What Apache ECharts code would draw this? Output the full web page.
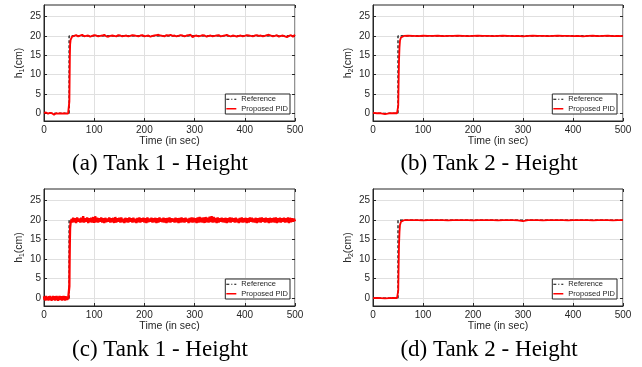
<!DOCTYPE html>
<html>
<head>
<meta charset="utf-8">
<script src="https://cdn.jsdelivr.net/npm/echarts@6/dist/echarts.min.js"></script>
<style>html,body{margin:0;padding:0;background:#fff}#c{width:642px;height:367px}</style>
</head>
<body>
<div id="c"></div>
<script>
// ---------- data ----------
const xTicks = [0, 100, 200, 300, 400, 500];
const yTicks = [0, 5, 10, 15, 20, 25];
const captions = ['(a) Tank 1 - Height', '(b) Tank 2 - Height', '(c) Tank 1 - Height', '(d) Tank 2 - Height'];
const yNames = ['1', '2', '1', '2'];

// reference set-point
const refT = [0, 50, 50, 500];
const refV = [0, 0, 20, 20];

// panel (a)
const aPreStep = 2;
const aPre = [0.1,0.0,0.2,0.1,-0.1,0.0,0.1,-0.2,0.0,-0.3,-0.4,-0.1,0.0,0.1,-0.1,-0.2,0.0,-0.3,-0.1,0.1,0.0,-0.2,-0.1,0.0,-0.1];
const aRise = [[50,-0.1],[50.5,3],[51,9],[51.5,15],[52,17.8],[53,19.0],[54,19.5],[56,19.8],[58,20.1]];
const aPostStart = 60, aPostStep = 4;
const aPost = [20.0,20.2,19.9,20.1,20.3,19.9,20.0,20.1,19.8,20.0,
20.2,20.1,19.9,20.0,20.1,20.3,19.9,19.8,20.0,20.1,
20.0,19.9,20.2,20.1,19.9,20.0,20.1,19.9,20.0,20.2,
20.1,20.0,19.9,20.1,20.2,19.9,20.0,20.1,19.8,20.0,
20.1,20.2,20.3,20.1,20.0,19.9,20.2,20.1,20.3,20.0,
20.1,19.9,20.0,20.2,20.1,19.9,20.1,20.2,20.3,19.7,
20.0,20.1,19.9,20.0,20.2,20.1,19.8,20.0,20.1,19.9,
20.0,20.1,20.2,19.9,20.0,20.1,20.3,20.0,19.9,20.1,
20.0,19.8,20.0,20.1,19.9,20.0,20.2,20.1,20.0,19.9,
20.1,20.2,20.0,20.1,19.9,20.0,20.2,20.3,20.1,19.9,
20.0,20.2,19.8,20.0,20.1,19.9,19.7,20.0,20.2,19.8,
20.3];

// panel (b)
const bPreStep = 4;
const bPre = [0.1,0.1,0.0,0.1,0.0,-0.1,-0.2,-0.1,0.0,-0.2,0.0,-0.1,0.0];
const bRise = [[50,0],[50.5,2],[51,6],[51.5,10],[52,13.5],[53,17],[54,18.8],[56,19.6],[58,19.9],[62,20.0]];
const bPostStart = 70, bPostStep = 10;
const bPost = [20.05,20.0,19.95,20.05,20.0,20.0,20.05,19.95,20.0,20.0,
20.05,20.0,19.95,20.0,20.05,20.0,20.0,19.95,20.0,20.05,
20.0,19.95,20.0,19.9,20.0,20.05,20.0,20.0,19.95,20.0,
20.05,20.0,20.0,19.95,20.0,19.9,20.0,20.05,19.95,20.0,
20.05,19.95,20.0,19.95];

// panel (c)
const cPreStep = 1;
const cPre = [0.5,-0.4,0.3,-0.6,0.6,-0.3,0.4,-0.5,0.2,-0.6,
0.5,-0.3,0.6,-0.4,0.3,-0.7,0.4,-0.5,0.6,-0.2,
-0.4,0.5,-0.6,0.3,-0.5,0.6,-0.3,0.4,-0.7,0.5,
-0.2,0.6,-0.5,0.3,-0.4,0.5,-0.6,0.2,-0.5,0.6,
-0.3,0.4,-0.6,0.5,-0.4,0.3,-0.5,0.4,-0.3];
const cRise = [[49,0.2],[50,-0.2],[50.5,3],[51,10],[51.5,15],[52,18],[53,19.3],[54,19.6],[55,20.3]];
const cPostStart = 56, cPostStep = 2;
const cPost = [19.4,20.6,19.5,20.5,19.3,20.7,19.6,20.4,19.4,20.6,
19.5,21.0,19.4,20.5,19.6,20.7,19.3,20.5,19.5,20.6,
19.4,20.8,19.3,21.0,19.5,20.6,19.4,20.5,19.6,20.7,
19.4,20.5,19.3,20.6,19.5,20.4,19.6,20.7,19.4,20.5,
19.5,20.6,19.3,20.8,19.4,20.5,19.6,20.6,19.4,20.7,
19.5,20.4,19.3,20.6,19.5,20.5,19.4,20.7,19.6,20.5,
19.4,20.6,19.5,20.4,19.3,20.6,19.5,20.7,19.4,20.5,
19.6,20.6,19.4,20.5,19.3,20.7,19.5,20.4,19.6,20.6,
19.4,20.5,19.5,20.6,19.3,20.5,19.4,20.7,19.6,20.4,
19.5,20.6,19.4,20.5,19.3,20.6,19.5,20.7,19.4,20.5,
19.6,20.4,19.4,20.6,19.5,20.5,19.3,20.6,19.4,20.7,
19.5,20.5,19.4,20.6,19.6,20.4,19.3,20.6,19.5,20.7,
19.4,20.6,19.5,20.5,19.3,20.7,19.4,20.8,19.5,20.6,
19.4,20.7,19.3,20.8,19.5,20.6,19.4,20.9,19.5,21.0,
19.4,20.8,19.5,20.6,19.3,20.7,19.4,20.5,19.6,20.6,
19.5,20.5,19.4,20.6,19.3,20.5,19.5,20.7,19.4,20.6,
19.6,20.5,19.4,20.6,19.5,20.4,19.3,20.6,19.5,20.7,
19.4,20.5,19.5,20.6,19.3,20.5,19.4,20.7,19.6,20.6,
19.5,20.4,19.4,20.6,19.3,20.5,19.5,20.6,19.4,20.7,
19.6,20.5,19.4,20.6,19.5,20.5,19.3,20.6,19.4,20.5,
19.5,20.6,19.4,20.7,19.3,20.5,19.5,20.6,19.4,20.5,
19.6,20.6,19.4,20.5,19.5,20.7,19.3,20.6,19.5,20.5,
19.6,20.4,19.7];

// panel (d)
const dPreStep = 8;
const dPre = [0.0,0.05,0.0,-0.05,0.0,0.05,0.0];
const dRise = [[50,0],[50.5,2],[51,6],[51.5,10],[52,13.5],[53,17],[54,18.8],[56,19.6],[58,19.9],[62,20.0]];
const dPostStart = 70, dPostStep = 10;
const dPost = [20.0,20.02,20.0,19.98,20.0,20.02,20.0,20.0,19.98,20.0,
20.02,20.0,20.0,19.98,20.0,20.02,20.0,20.0,19.98,20.0,
20.02,20.0,19.98,19.75,20.0,20.02,20.0,19.98,20.0,20.0,
20.02,20.0,19.98,20.0,20.0,20.02,20.0,19.98,20.0,20.02,
20.0,19.98,20.0,20.0];

// ---------- build ----------
function build(pre, preStep, rise, post, postStart, postStep) {
  const out = [];
  pre.forEach((v, i) => out.push([i * preStep, v]));
  rise.forEach(p => out.push(p));
  post.forEach((v, i) => out.push([postStart + i * postStep, v]));
  return out;
}
const pidData = [
  build(aPre, aPreStep, aRise, aPost, aPostStart, aPostStep),
  build(bPre, bPreStep, bRise, bPost, bPostStart, bPostStep),
  build(cPre, cPreStep, cRise, cPost, cPostStart, cPostStep),
  build(dPre, dPreStep, dRise, dPost, dPostStart, dPostStep)
];
const refData = refT.map((t, i) => [t, refV[i]]);
const pidWidths = [1.9, 1.8, 2.3, 1.8];

const AX = '#262626';
const grids = [
  {left: 44, top: 5, width: 251, height: 116},
  {left: 373, top: 5, width: 250, height: 116},
  {left: 44, top: 189, width: 251, height: 117},
  {left: 373, top: 189, width: 250, height: 117}
];
const legendPos = [
  {right: 352, bottom: 253},
  {right: 25, bottom: 253},
  {right: 352, bottom: 68},
  {right: 25, bottom: 68}
];
const capPos = [[160, 164], [489, 164], [160, 350], [489, 350]];
const dashIcon = 'path://M0,0h3v1h-3zM5,0h1v1h-1zM8,0h2v1h-2z';

const option = {
  animation: false,
  backgroundColor: '#fff',
  grid: grids.map(g => Object.assign({show: true, borderColor: AX, borderWidth: 1, backgroundColor: 'transparent', containLabel: false}, g)),
  xAxis: [],
  yAxis: [],
  legend: [],
  series: [],
  graphic: []
};

for (let i = 0; i < 4; i++) {
  option.xAxis.push({
    type: 'value', gridIndex: i, min: 0, max: 500, interval: 100,
    name: 'Time (in sec)', nameLocation: 'middle', nameGap: 15,
    nameTextStyle: {color: AX, fontSize: 10.5, fontFamily: 'Liberation Sans'},
    axisLine: {show: true, onZero: false, lineStyle: {color: AX, width: 1}},
    axisTick: {show: true, inside: true, length: 3, lineStyle: {color: AX}},
    axisLabel: {color: AX, fontSize: 10, fontFamily: 'Liberation Sans', margin: 4},
    splitLine: {show: true, lineStyle: {color: '#e0e0e0', width: 1}}
  });
  option.xAxis.push({
    type: 'value', gridIndex: i, min: 0, max: 500, interval: 100, position: 'top',
    axisLine: {show: false, onZero: false}, axisTick: {show: true, inside: true, length: 3, lineStyle: {color: AX}},
    axisLabel: {show: false}, splitLine: {show: false}
  });
  option.yAxis.push({
    type: 'value', gridIndex: i, min: -2, max: 28,
    name: '{n|h}{s|' + yNames[i] + '}{n|(cm)}', nameLocation: 'middle', nameGap: 17,
    nameTextStyle: {color: AX, fontSize: 10.5, fontFamily: 'Liberation Sans',
      rich: {n: {fontSize: 10.5, color: AX, fontFamily: 'Liberation Sans'},
             s: {fontSize: 7, color: AX, fontFamily: 'Liberation Sans', padding: [7, 0, 0, 0]}}},
    axisLine: {show: true, onZero: false, lineStyle: {color: AX, width: 1}},
    axisTick: {show: true, inside: true, length: 3, lineStyle: {color: AX}, customValues: yTicks},
    axisLabel: {color: AX, fontSize: 10, fontFamily: 'Liberation Sans', margin: 3, customValues: yTicks},
    splitLine: {show: true, lineStyle: {color: '#e0e0e0', width: 1}}
  });
  option.yAxis.push({
    type: 'value', gridIndex: i, min: -2, max: 28, position: 'right',
    axisLine: {show: false, onZero: false},
    axisTick: {show: true, inside: true, length: 3, lineStyle: {color: AX}, customValues: yTicks},
    axisLabel: {show: false, customValues: yTicks}, splitLine: {show: false}
  });
  option.series.push({
    name: 'Reference', type: 'line', xAxisIndex: 2 * i, yAxisIndex: 2 * i,
    data: refData, showSymbol: false, symbol: 'none', z: 2,
    lineStyle: {color: '#000', width: 1.2, type: [3, 2]}, itemStyle: {color: '#000'}
  });
  option.series.push({
    name: 'Proposed PID', type: 'line', xAxisIndex: 2 * i, yAxisIndex: 2 * i,
    data: pidData[i], showSymbol: false, symbol: 'none', z: 3,
    lineStyle: {color: '#ff0000', width: pidWidths[i]}, itemStyle: {color: '#ff0000'}
  });
  option.legend.push(Object.assign({
    data: [{name: 'Reference', icon: dashIcon, itemStyle: {color: '#000'}},
           {name: 'Proposed PID', icon: 'rect', itemStyle: {color: '#ff0000'}}],
    orient: 'vertical',
    padding: [1, 2, 1, 1], itemGap: 1, itemWidth: 10, itemHeight: 1.5,
    borderColor: AX, borderWidth: 1, borderRadius: 0, backgroundColor: '#fff',
    selectedMode: false,
    textStyle: {color: AX, fontSize: 7.5, fontFamily: 'Liberation Sans', lineHeight: 8.5}
  }, legendPos[i]));
  option.graphic.push({
    type: 'text', x: capPos[i][0], y: capPos[i][1],
    style: {text: captions[i], fill: '#000', font: '23px "Liberation Serif"', align: 'center', verticalAlign: 'middle'}
  });
}

const chart = echarts.init(document.getElementById('c'), null, {renderer: 'canvas'});
chart.setOption(option);
</script>
</body>
</html>
